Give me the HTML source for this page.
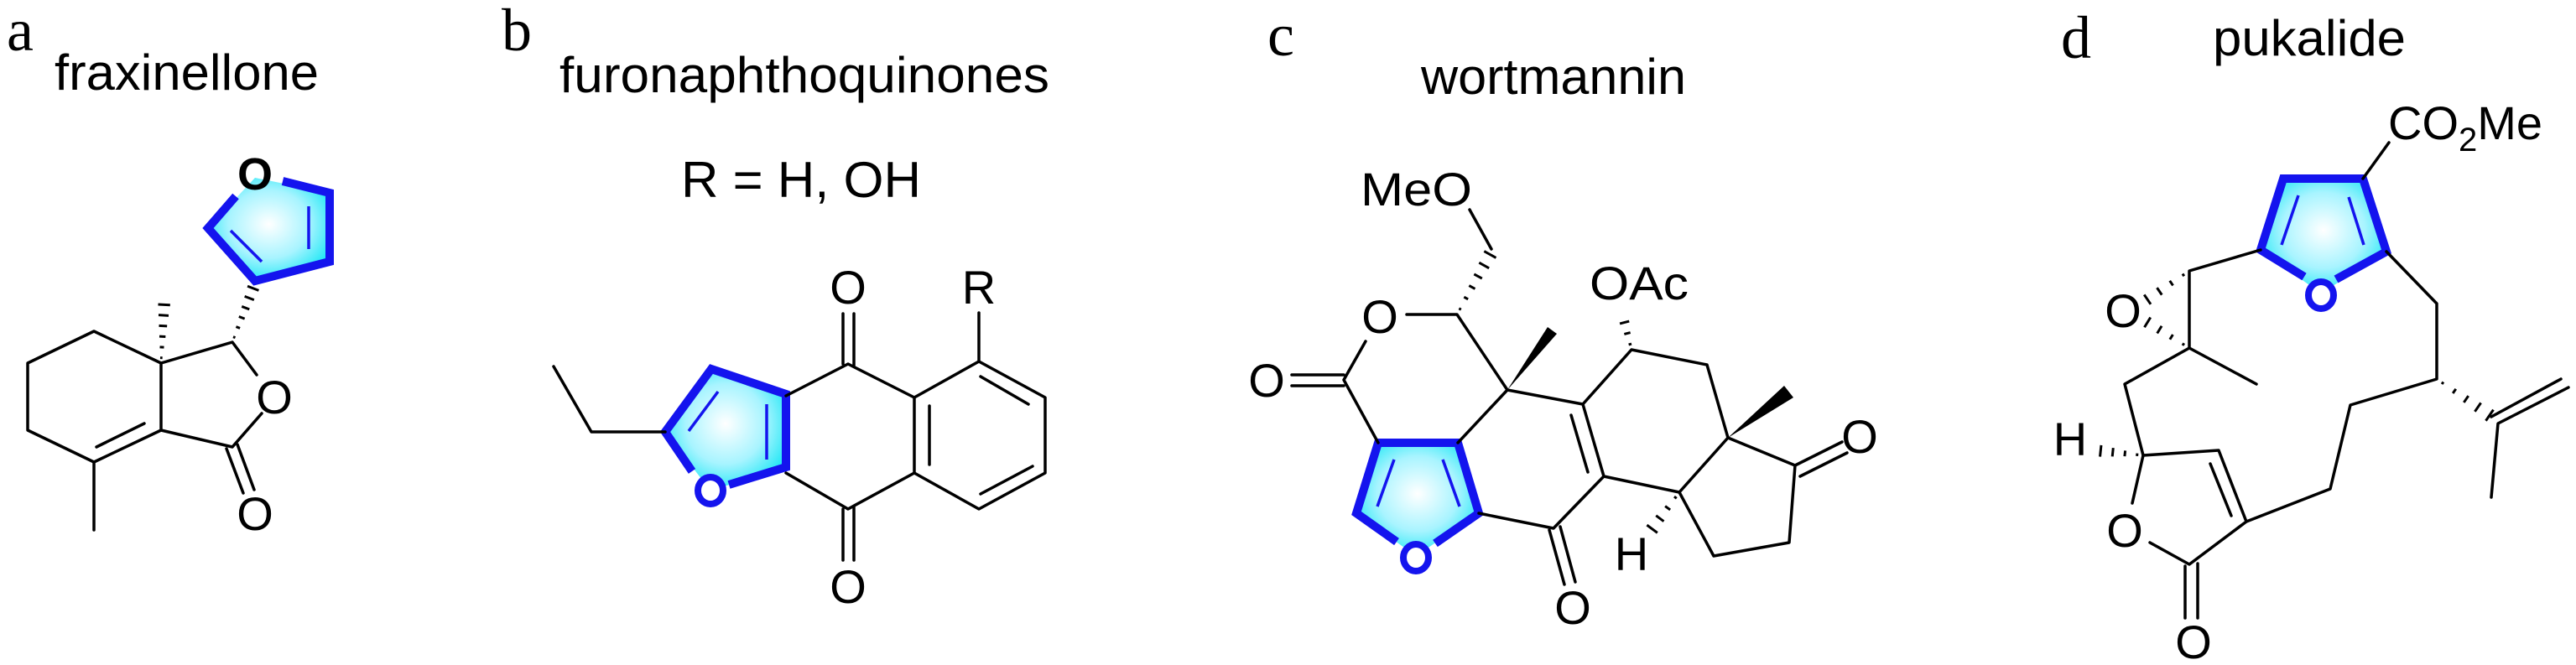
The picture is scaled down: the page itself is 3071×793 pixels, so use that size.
<!DOCTYPE html>
<html><head><meta charset="utf-8"><style>
html,body{margin:0;padding:0;background:#fff;}
svg{display:block}
text{font-family:"Liberation Sans",Arial,sans-serif;fill:#000}
.L{font-family:"Liberation Serif","Times New Roman",serif;font-size:72px}
.n{font-size:60px}
.at{font-size:56px;text-anchor:middle}
.bk{stroke:#000;stroke-width:3.5;fill:none;stroke-linecap:round;stroke-linejoin:round}
.bl{stroke:#1414ee;stroke-width:10;fill:none;stroke-linejoin:miter;stroke-linecap:butt}
.bi{stroke:#1414ee;stroke-width:3.5;fill:none}
.bo{stroke:#1414ee;stroke-width:8;fill:#fff}
</style></head><body>
<svg id="s" width="3071" height="793" viewBox="0 0 3071 793" xmlns="http://www.w3.org/2000/svg">
<defs>
<radialGradient id="g" cx="50%" cy="45%" r="60%">
<stop offset="0" stop-color="#ffffff"/><stop offset="0.55" stop-color="#a8f4ff"/><stop offset="1" stop-color="#10e6f4"/>
</radialGradient>
</defs>

<text class="L" x="8" y="60">a</text>
<text class="L" x="598" y="60">b</text>
<text class="L" x="1511" y="66">c</text>
<text class="L" x="2457" y="69">d</text>
<text class="n" x="65" y="107" textLength="315" lengthAdjust="spacingAndGlyphs">fraxinellone</text>
<text class="n" x="667" y="110" textLength="584" lengthAdjust="spacingAndGlyphs">furonaphthoquinones</text>
<text class="n" x="812" y="235" textLength="286" lengthAdjust="spacingAndGlyphs">R = H, OH</text>
<text class="n" x="1694" y="112" textLength="316" lengthAdjust="spacingAndGlyphs">wortmannin</text>
<text class="n" x="2638" y="66" textLength="230" lengthAdjust="spacingAndGlyphs">pukalide</text>

<!-- a -->
<polygon points="304,212 393,230 393,312 304,335 248,272" fill="url(#g)"/>
<polyline class="bl" points="337,216 393,230 393,312 304,335 248,272 281,234"/>
<line class="bi" x1="368" y1="246" x2="368" y2="297"/>
<line class="bi" x1="275" y1="275" x2="312" y2="312"/>
<text x="304" y="226" style="font-size:54px;font-weight:bold;text-anchor:middle">O</text>
<polyline class="bk" points="192,433 112,395 33,433 33,513 112,551 192,513 192,433 277,408 306,447"/>
<polyline class="bk" points="312,493 277,533 192,513"/>
<line class="bk" x1="115" y1="533" x2="172" y2="505"/>
<line class="bk" x1="112" y1="551" x2="112" y2="632"/>
<line class="bk" x1="270" y1="535" x2="290" y2="588"/>
<line class="bk" x1="283" y1="530" x2="303" y2="584"/>
<text class="at" x="327" y="493">O</text>
<text class="at" x="304" y="632">O</text>
<g id="hashes"></g>

<!-- b -->
<polygon points="937,470 848,440 793,515 847,585 937,557" fill="url(#g)"/>
<polyline class="bl" points="869,578 937,557 937,470 848,440 793,515 825,562"/>
<line class="bi" x1="914" y1="482" x2="914" y2="548"/>
<line class="bi" x1="856" y1="467" x2="821" y2="514"/>
<ellipse class="bo" cx="847" cy="585" rx="15" ry="16"/>
<polyline class="bk" points="660,437 705,515 793,515"/>
<polyline class="bk" points="937,472 1011,434 1090,474 1090,564 1011,607 937,564"/>
<polyline class="bk" points="1090,474 1167,431 1246,474 1246,564 1167,607 1090,564"/>
<line class="bk" x1="1169" y1="449" x2="1226" y2="482"/>
<line class="bk" x1="1108" y1="484" x2="1108" y2="554"/>
<line class="bk" x1="1169" y1="589" x2="1231" y2="556"/>
<line class="bk" x1="1167" y1="431" x2="1167" y2="373"/>
<line class="bk" x1="1005" y1="374" x2="1005" y2="434"/><line class="bk" x1="1018" y1="374" x2="1018" y2="437"/>
<line class="bk" x1="1005" y1="607" x2="1005" y2="668"/><line class="bk" x1="1018" y1="604" x2="1018" y2="668"/>
<text class="at" x="1011" y="362">O</text>
<text class="at" x="1167" y="362">R</text>
<text class="at" x="1011" y="719">O</text>

<!-- c -->
<polygon points="1643,528 1738,528 1763,612 1688,663 1617,612" fill="url(#g)"/>
<polyline class="bl" points="1711,648 1763,612 1738,528 1643,528 1617,612 1665,646"/>
<line class="bi" x1="1662" y1="548" x2="1642" y2="604"/>
<line class="bi" x1="1720" y1="548" x2="1740" y2="604"/>
<ellipse class="bo" cx="1688" cy="665" rx="15" ry="16"/>
<line class="bk" x1="1540" y1="447" x2="1602" y2="447"/><line class="bk" x1="1540" y1="460" x2="1602" y2="460"/>
<polyline class="bk" points="1628,407 1602,453 1643,528"/>
<polyline class="bk" points="1677,375 1737,375 1797,465 1738,528"/>
<line class="bk" x1="1778" y1="297" x2="1752" y2="250"/>
<polyline class="bk" points="1797,465 1887,482 1945,417 2035,435 2060,522 2002,587 1912,568 1887,482"/>
<line class="bk" x1="1873" y1="495" x2="1893" y2="563"/>
<polyline class="bk" points="1763,612 1852,630 1912,568"/>
<polyline class="bk" points="2060,522 2140,555 2133,647 2043,663 2002,587"/>
<line class="bk" x1="2140" y1="555" x2="2196" y2="527"/><line class="bk" x1="2146" y1="568" x2="2202" y2="540"/>
<line class="bk" x1="1847" y1="632" x2="1865" y2="697"/><line class="bk" x1="1860" y1="628" x2="1878" y2="694"/>
<polygon points="1797,465 1845,390 1856,398" fill="#000"/>
<polygon points="2060,522 2127,460 2138,474" fill="#000"/>
<text class="at" x="1510" y="473">O</text>
<text class="at" x="1645" y="397">O</text>
<text x="1622" y="245" style="font-size:56px" textLength="133" lengthAdjust="spacingAndGlyphs">MeO</text>
<text x="1895" y="357" style="font-size:56px" textLength="118" lengthAdjust="spacingAndGlyphs">OAc</text>
<text class="at" x="1945" y="680">H</text>
<text class="at" x="2217" y="540">O</text>
<text class="at" x="1875" y="744">O</text>

<!-- d -->
<polygon points="2722,213 2817,213 2845,300 2767,350 2695,298" fill="url(#g)"/>
<polyline class="bl" points="2785,333 2845,300 2817,213 2722,213 2695,298 2747,330"/>
<line class="bi" x1="2740" y1="233" x2="2720" y2="292"/>
<line class="bi" x1="2800" y1="235" x2="2818" y2="292"/>
<ellipse class="bo" cx="2767" cy="352" rx="15" ry="16"/>
<line class="bk" x1="2817" y1="213" x2="2848" y2="170"/>
<polyline class="bk" points="2695,298 2610,323 2610,415 2690,458"/>
<polyline class="bk" points="2610,415 2533,458 2555,543 2645,537 2678,622 2610,673 2563,647"/>
<line class="bk" x1="2555" y1="543" x2="2542" y2="600"/>
<line class="bk" x1="2635" y1="553" x2="2660" y2="615"/>
<line class="bk" x1="2605" y1="675" x2="2605" y2="737"/><line class="bk" x1="2620" y1="672" x2="2620" y2="737"/>
<polyline class="bk" points="2678,622 2778,583 2802,483 2905,452 2905,362 2845,300"/>
<polyline class="bk" points="2970,593 2978,505 3062,462"/>
<line class="bk" x1="2970" y1="497" x2="3053" y2="452"/>
<text class="at" x="2531" y="390">O</text>
<text class="at" x="2468" y="543">H</text>
<text class="at" x="2533" y="652">O</text>
<text class="at" x="2615" y="785">O</text>
<text x="2847" y="166" style="font-size:56px">CO<tspan style="font-size:40px" dy="14">2</tspan><tspan dy="-14">Me</tspan></text>
</svg>
<script>
(function(){
var g=document.getElementById('hashes'),NS='http://www.w3.org/2000/svg';
function hash(ax,ay,bx,by,n,w){
 var dx=bx-ax,dy=by-ay,L=Math.sqrt(dx*dx+dy*dy),px=-dy/L,py=dx/L;
 for(var i=0;i<n;i++){var t=(i+0.5)/n,cx=ax+dx*t,cy=ay+dy*t,h=(1.5+w*t)/2;
  var l=document.createElementNS(NS,'line');
  l.setAttribute('x1',cx+px*h);l.setAttribute('y1',cy+py*h);
  l.setAttribute('x2',cx-px*h);l.setAttribute('y2',cy-py*h);
  l.setAttribute('stroke','#000');l.setAttribute('stroke-width','3');g.appendChild(l);}
}
hash(192,433,196,357,6,14);
hash(277,408,304,338,6,14);
hash(1737,375,1780,297,6,16);
hash(1945,417,1935,378,3,12);
hash(2002,587,1965,637,4,16);
hash(2610,323,2553,362,4,14);
hash(2610,415,2553,380,4,14);
hash(2555,543,2497,537,4,14);
hash(2905,452,2975,500,5,16);
})();
</script>
</body></html>
